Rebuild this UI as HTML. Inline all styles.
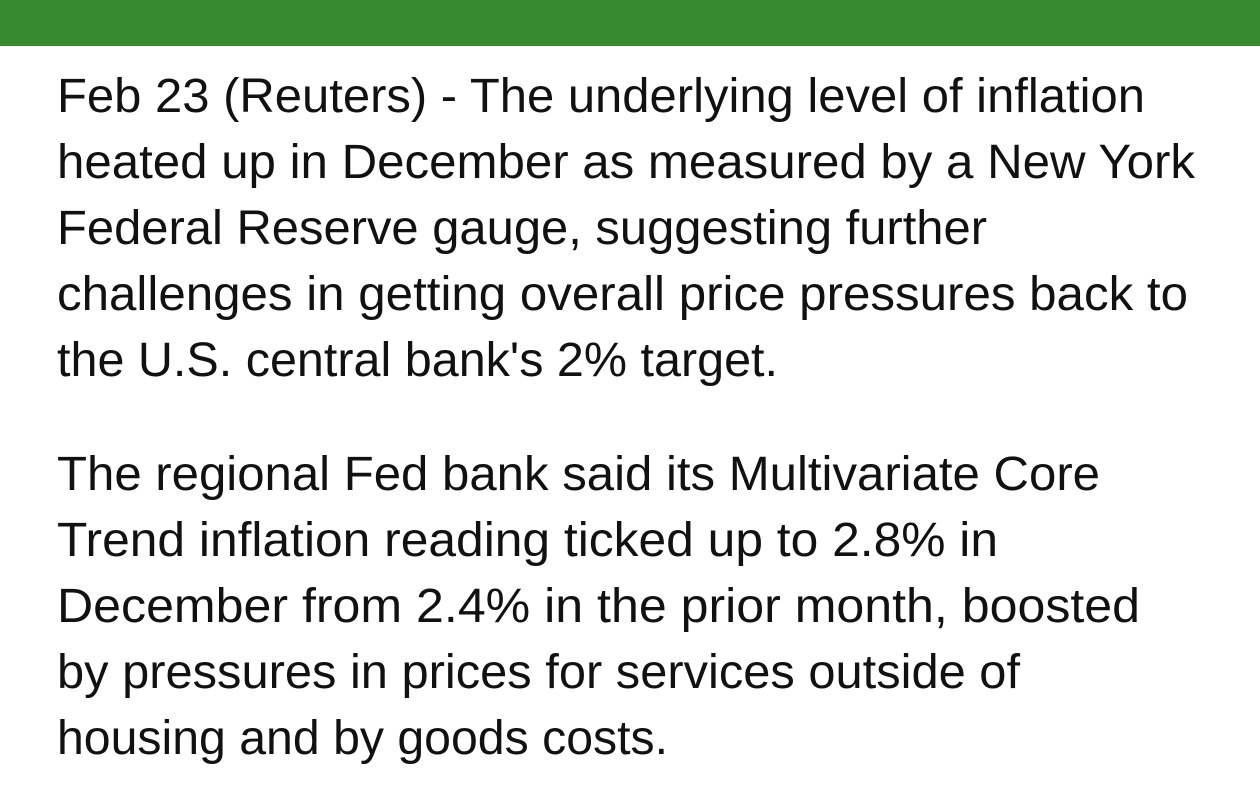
<!DOCTYPE html>
<html><head><meta charset="utf-8"><style>
html,body{margin:0;padding:0;background:#fff;width:1260px;height:807px;overflow:hidden}
#bar{position:absolute;left:0;top:0;width:1260px;height:46px;background:#378a2e}
svg{position:absolute;left:0;top:0}
text{font-family:"Liberation Sans",sans-serif;font-size:48px;fill:#111}
</style></head><body>
<div id="bar"></div>
<svg width="1260" height="807">
<g>
<text x="57" y="112" textLength="1088" lengthAdjust="spacingAndGlyphs">Feb 23 (Reuters) - The underlying level of inflation</text>
<text x="57" y="178" textLength="1138" lengthAdjust="spacingAndGlyphs">heated up in December as measured by a New York</text>
<text x="57" y="244" textLength="930" lengthAdjust="spacingAndGlyphs">Federal Reserve gauge, suggesting further</text>
<text x="57" y="310" textLength="1131" lengthAdjust="spacingAndGlyphs">challenges in getting overall price pressures back to</text>
<text x="57" y="376" textLength="721" lengthAdjust="spacingAndGlyphs">the U.S. central bank's 2% target.</text>
</g>
<g>
<text x="57" y="490" textLength="1043" lengthAdjust="spacingAndGlyphs">The regional Fed bank said its Multivariate Core</text>
<text x="57" y="556" textLength="941" lengthAdjust="spacingAndGlyphs">Trend inflation reading ticked up to 2.8% in</text>
<text x="57" y="622" textLength="1083" lengthAdjust="spacingAndGlyphs">December from 2.4% in the prior month, boosted</text>
<text x="57" y="688" textLength="963" lengthAdjust="spacingAndGlyphs">by pressures in prices for services outside of</text>
<text x="57" y="754" textLength="611" lengthAdjust="spacingAndGlyphs">housing and by goods costs.</text>
</g>
</svg>
</body></html>
